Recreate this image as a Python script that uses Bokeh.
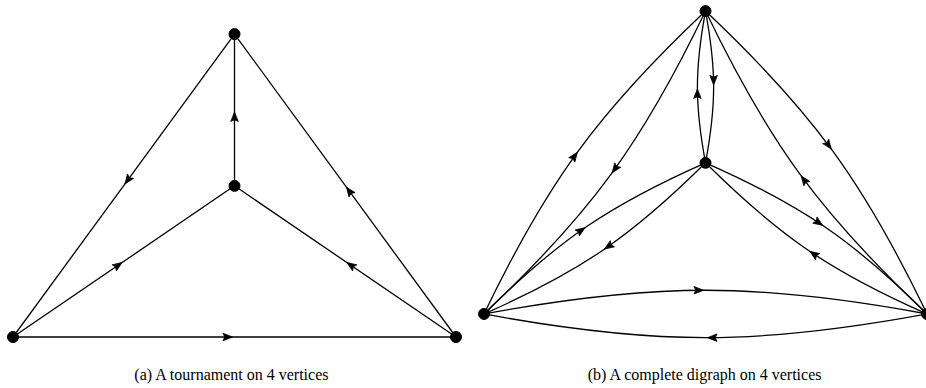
import math
from bokeh.plotting import figure
from bokeh.models import Range1d, ColumnDataSource
from bokeh.core.properties import value
from bokeh.embed import file_html
from bokeh.resources import INLINE

# ---- data ----
# vertex layout (shared shape): bottom-left, bottom-right, top, centre
vertex_names = ["BL", "BR", "top", "centre"]
shape_x = [-2.0, 2.0, 0.0, 0.0]
shape_y = [0.0, 0.0, 2.735, 1.365]

# subfigure offsets
offset_a = (0.0, 0.0)
offset_b = (4.253, 0.208)

# (a) tournament edges (from, to)
tournament_edges = [(3, 2), (2, 0), (0, 3), (1, 3), (1, 2), (0, 1)]
# (b) complete digraph: every ordered pair
complete_edges = [(i, j) for i in range(4) for j in range(4) if i != j]

captions = ["(a) A tournament on 4 vertices", "(b) A complete digraph on 4 vertices"]

# ---- style ----
S = 110.75            # px per data unit (equal in x and y)
W, H = 926, 388
BEND = math.radians(10.5)
LOOSE = 0.3915
ARROW_LEN = 9.5 / S
ARROW_W = 7.5 / S
TIP_BACK = 2.0 / S
LW = 1.3
X0 = -2.0 - 12.5 / S
Y0 = -(H - 336.5) / S

p = figure(width=W, height=H, output_backend="svg", toolbar_location=None,
           x_range=Range1d(X0, X0 + W / S),
           y_range=Range1d(Y0, Y0 + H / S),
           min_border=0, background_fill_color="white", border_fill_color="white")
p.axis.visible = False
p.grid.visible = False
p.outline_line_color = None


def verts(off):
    return [x + off[0] for x in shape_x], [y + off[1] for y in shape_y]


def arrow_patch(mx, my, ux, uy):
    tx, ty = mx - TIP_BACK * ux, my - TIP_BACK * uy
    bx, by = tx - ARROW_LEN * ux, ty - ARROW_LEN * uy
    nx, ny = -uy, ux
    return ([tx, bx + ARROW_W / 2 * nx, bx + ARROW_LEN * 0.18 * ux, bx - ARROW_W / 2 * nx],
            [ty, by + ARROW_W / 2 * ny, by + ARROW_LEN * 0.18 * uy, by - ARROW_W / 2 * ny])


heads_x, heads_y = [], []

# (a) straight edges
ax, ay = verts(offset_a)
seg = dict(x0=[], y0=[], x1=[], y1=[])
for a, b in tournament_edges:
    seg["x0"].append(ax[a]); seg["y0"].append(ay[a])
    seg["x1"].append(ax[b]); seg["y1"].append(ay[b])
    dx, dy = ax[b] - ax[a], ay[b] - ay[a]
    L = math.hypot(dx, dy)
    ux, uy = dx / L, dy / L
    hx, hy = arrow_patch((ax[a] + ax[b]) / 2, (ay[a] + ay[b]) / 2, ux, uy)
    heads_x.append(hx); heads_y.append(hy)
p.segment(x0="x0", y0="y0", x1="x1", y1="y1", source=ColumnDataSource(seg),
          line_color="black", line_width=LW)

# (b) bent edges (bend left)
bx_, by_ = verts(offset_b)
bz = dict(x0=[], y0=[], x1=[], y1=[], cx0=[], cy0=[], cx1=[], cy1=[])
for a, b in complete_edges:
    x0, y0, x1, y1 = bx_[a], by_[a], bx_[b], by_[b]
    dx, dy = x1 - x0, y1 - y0
    L = math.hypot(dx, dy)
    ang = math.atan2(dy, dx)
    d = LOOSE * L
    c0x, c0y = x0 + d * math.cos(ang + BEND), y0 + d * math.sin(ang + BEND)
    c1x, c1y = x1 + d * math.cos(ang + math.pi - BEND), y1 + d * math.sin(ang + math.pi - BEND)
    for k, v in zip(["x0", "y0", "x1", "y1", "cx0", "cy0", "cx1", "cy1"],
                    [x0, y0, x1, y1, c0x, c0y, c1x, c1y]):
        bz[k].append(v)
    mx = (x0 + 3 * c0x + 3 * c1x + x1) / 8
    my = (y0 + 3 * c0y + 3 * c1y + y1) / 8
    tx, ty = (x1 + c1x - c0x - x0), (y1 + c1y - c0y - y0)
    tl = math.hypot(tx, ty)
    hx, hy = arrow_patch(mx, my, tx / tl, ty / tl)
    heads_x.append(hx); heads_y.append(hy)
p.bezier(x0="x0", y0="y0", x1="x1", y1="y1", cx0="cx0", cy0="cy0", cx1="cx1", cy1="cy1",
         source=ColumnDataSource(bz), line_color="black", line_width=LW)

p.patches(xs=heads_x, ys=heads_y, fill_color="black", line_color="black", line_width=0.8)

# vertices
for off in (offset_a, offset_b):
    vx, vy = verts(off)
    p.scatter(vx, vy, size=11, marker="circle", fill_color="black", line_color="black")

# captions
p.text(x=[offset_a[0] - 0.02, offset_b[0]], y=[-0.34, -0.34], text=captions,
       text_font=value("Liberation Serif"), text_font_size="16px",
       text_align="center", text_baseline="alphabetic", text_color="black")

open("out.html", "w").write(file_html(p, INLINE))
